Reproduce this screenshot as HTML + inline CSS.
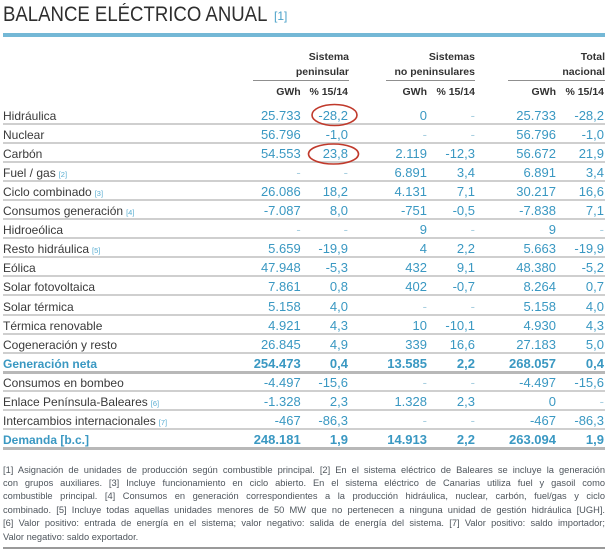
<!DOCTYPE html>
<html><head><meta charset="utf-8">
<style>
*{margin:0;padding:0;box-sizing:content-box}
html,body{width:610px;height:553px;background:#fff;overflow:hidden}
body{position:relative;font-family:"Liberation Sans",sans-serif;color:#3a3a3a}
.abs{position:absolute}
#title{left:3px;top:4px;font-size:21px;line-height:21px;color:#2e2e2e;white-space:nowrap;transform:scaleX(0.885);transform-origin:0 0}
#tref{left:274px;top:9px;font-size:12px;line-height:14px;color:#4ba2c9}
#bar{left:3px;top:33px;width:602px;height:4px;background:#74b8d6}
.h{font-size:10.5px;font-weight:bold;color:#333;line-height:15px;text-align:right;white-space:nowrap}
.ul{height:1.5px;background:#8f8f8f}
.row{position:absolute;left:3px;width:602px;height:17px;line-height:20px;border-bottom:2px solid #cfcfcf;white-space:nowrap}
.row.tk{border-bottom:3px solid #b8b8b8}
.lab{position:absolute;left:0;top:0;font-size:12px;color:#3a3a3a}
.lab i{font-style:normal;font-size:7.5px;color:#5aaed2;margin-left:3px}
.n{position:absolute;top:0;font-size:13px;color:#3a98c2;text-align:right}
.d{color:#a8cfe0}
.c1{right:304.3px}.c2{right:257px}.c3{right:178px}.c4{right:130px}.c5{right:49px}.c6{right:1px}
.b .lab{font-weight:bold;color:#3a98c2}
.b .n{font-weight:bold}
#fn{left:3px;top:463.5px;width:602px;font-size:9.3px;line-height:13.4px;color:#4f565d}
#fn div{white-space:nowrap;text-align:justify;text-align-last:justify}
#fn div.last{text-align-last:left}
#bot{left:3px;top:547px;width:602px;height:2px;background:#9a9a9a}
</style></head><body>
<div id="title" class="abs">BALANCE ELÉCTRICO ANUAL</div>
<div id="tref" class="abs">[1]</div>
<div id="bar" class="abs"></div>

<div class="abs h" style="right:261px;top:49.5px">Sistema<br>peninsular</div>
<div class="abs ul" style="left:253px;top:79.5px;width:96px"></div>
<div class="abs h" style="right:135px;top:49.5px">Sistemas<br>no peninsulares</div>
<div class="abs ul" style="left:386px;top:79.5px;width:89px"></div>
<div class="abs h" style="right:5px;top:49.5px">Total<br>nacional</div>
<div class="abs ul" style="left:508px;top:79.5px;width:97px"></div>

<div class="abs h" style="right:309.3px;top:85px">GWh</div>
<div class="abs h" style="right:262px;top:85px">% 15/14</div>
<div class="abs h" style="right:183px;top:85px">GWh</div>
<div class="abs h" style="right:135px;top:85px">% 15/14</div>
<div class="abs h" style="right:54px;top:85px">GWh</div>
<div class="abs h" style="right:6px;top:85px">% 15/14</div>

<div class="row" style="top:105.5px"><span class="lab">Hidráulica</span><span class="n c1">25.733</span><span class="n c2">-28,2</span><span class="n c3">0</span><span class="n c4 d">-</span><span class="n c5">25.733</span><span class="n c6">-28,2</span></div>
<div class="row" style="top:124.6px"><span class="lab">Nuclear</span><span class="n c1">56.796</span><span class="n c2">-1,0</span><span class="n c3 d">-</span><span class="n c4 d">-</span><span class="n c5">56.796</span><span class="n c6">-1,0</span></div>
<div class="row" style="top:143.7px"><span class="lab">Carbón</span><span class="n c1">54.553</span><span class="n c2">23,8</span><span class="n c3">2.119</span><span class="n c4">-12,3</span><span class="n c5">56.672</span><span class="n c6">21,9</span></div>
<div class="row" style="top:162.8px"><span class="lab">Fuel / gas<i>[2]</i></span><span class="n c1 d">-</span><span class="n c2 d">-</span><span class="n c3">6.891</span><span class="n c4">3,4</span><span class="n c5">6.891</span><span class="n c6">3,4</span></div>
<div class="row" style="top:181.9px"><span class="lab">Ciclo combinado<i>[3]</i></span><span class="n c1">26.086</span><span class="n c2">18,2</span><span class="n c3">4.131</span><span class="n c4">7,1</span><span class="n c5">30.217</span><span class="n c6">16,6</span></div>
<div class="row" style="top:201px"><span class="lab">Consumos generación<i>[4]</i></span><span class="n c1">-7.087</span><span class="n c2">8,0</span><span class="n c3">-751</span><span class="n c4">-0,5</span><span class="n c5">-7.838</span><span class="n c6">7,1</span></div>
<div class="row" style="top:220.1px"><span class="lab">Hidroeólica</span><span class="n c1 d">-</span><span class="n c2 d">-</span><span class="n c3">9</span><span class="n c4 d">-</span><span class="n c5">9</span><span class="n c6 d">-</span></div>
<div class="row" style="top:239.2px"><span class="lab">Resto hidráulica<i>[5]</i></span><span class="n c1">5.659</span><span class="n c2">-19,9</span><span class="n c3">4</span><span class="n c4">2,2</span><span class="n c5">5.663</span><span class="n c6">-19,9</span></div>
<div class="row" style="top:258.3px"><span class="lab">Eólica</span><span class="n c1">47.948</span><span class="n c2">-5,3</span><span class="n c3">432</span><span class="n c4">9,1</span><span class="n c5">48.380</span><span class="n c6">-5,2</span></div>
<div class="row" style="top:277.4px"><span class="lab">Solar fotovoltaica</span><span class="n c1">7.861</span><span class="n c2">0,8</span><span class="n c3">402</span><span class="n c4">-0,7</span><span class="n c5">8.264</span><span class="n c6">0,7</span></div>
<div class="row" style="top:296.5px"><span class="lab">Solar térmica</span><span class="n c1">5.158</span><span class="n c2">4,0</span><span class="n c3 d">-</span><span class="n c4 d">-</span><span class="n c5">5.158</span><span class="n c6">4,0</span></div>
<div class="row" style="top:315.6px"><span class="lab">Térmica renovable</span><span class="n c1">4.921</span><span class="n c2">4,3</span><span class="n c3">10</span><span class="n c4">-10,1</span><span class="n c5">4.930</span><span class="n c6">4,3</span></div>
<div class="row" style="top:334.7px"><span class="lab">Cogeneración y resto</span><span class="n c1">26.845</span><span class="n c2">4,9</span><span class="n c3">339</span><span class="n c4">16,6</span><span class="n c5">27.183</span><span class="n c6">5,0</span></div>
<div class="row tk b" style="top:353.8px"><span class="lab">Generación neta</span><span class="n c1">254.473</span><span class="n c2">0,4</span><span class="n c3">13.585</span><span class="n c4">2,2</span><span class="n c5">268.057</span><span class="n c6">0,4</span></div>
<div class="row" style="top:372.9px"><span class="lab">Consumos en bombeo</span><span class="n c1">-4.497</span><span class="n c2">-15,6</span><span class="n c3 d">-</span><span class="n c4 d">-</span><span class="n c5">-4.497</span><span class="n c6">-15,6</span></div>
<div class="row" style="top:392px"><span class="lab">Enlace Península-Baleares<i>[6]</i></span><span class="n c1">-1.328</span><span class="n c2">2,3</span><span class="n c3">1.328</span><span class="n c4">2,3</span><span class="n c5">0</span><span class="n c6 d">-</span></div>
<div class="row" style="top:411.1px"><span class="lab">Intercambios internacionales<i>[7]</i></span><span class="n c1">-467</span><span class="n c2">-86,3</span><span class="n c3 d">-</span><span class="n c4 d">-</span><span class="n c5">-467</span><span class="n c6">-86,3</span></div>
<div class="row tk b" style="top:430.2px"><span class="lab">Demanda [b.c.]</span><span class="n c1">248.181</span><span class="n c2">1,9</span><span class="n c3">14.913</span><span class="n c4">2,2</span><span class="n c5">263.094</span><span class="n c6">1,9</span></div>

<svg class="abs" style="left:0;top:0" width="610" height="553">
<ellipse cx="334.5" cy="115" rx="22.5" ry="10.5" fill="none" stroke="#c0392b" stroke-width="1.6"/>
<ellipse cx="333.5" cy="154" rx="25" ry="10" fill="none" stroke="#c0392b" stroke-width="1.6"/>
</svg>

<div id="fn" class="abs">
<div>[1] Asignación de unidades de producción según combustible principal. [2] En el sistema eléctrico de Baleares se incluye la generación</div>
<div>con grupos auxiliares. [3] Incluye funcionamiento en ciclo abierto. En el sistema eléctrico de Canarias utiliza fuel y gasoil como</div>
<div>combustible principal. [4] Consumos en generación correspondientes a la producción hidráulica, nuclear, carbón, fuel/gas y ciclo</div>
<div>combinado. [5] Incluye todas aquellas unidades menores de 50 MW que no pertenecen a ninguna unidad de gestión hidráulica [UGH].</div>
<div>[6] Valor positivo: entrada de energía en el sistema; valor negativo: salida de energía del sistema. [7] Valor positivo: saldo importador;</div>
<div class="last">Valor negativo: saldo exportador.</div>
</div>
<div id="bot" class="abs"></div>
</body></html>
